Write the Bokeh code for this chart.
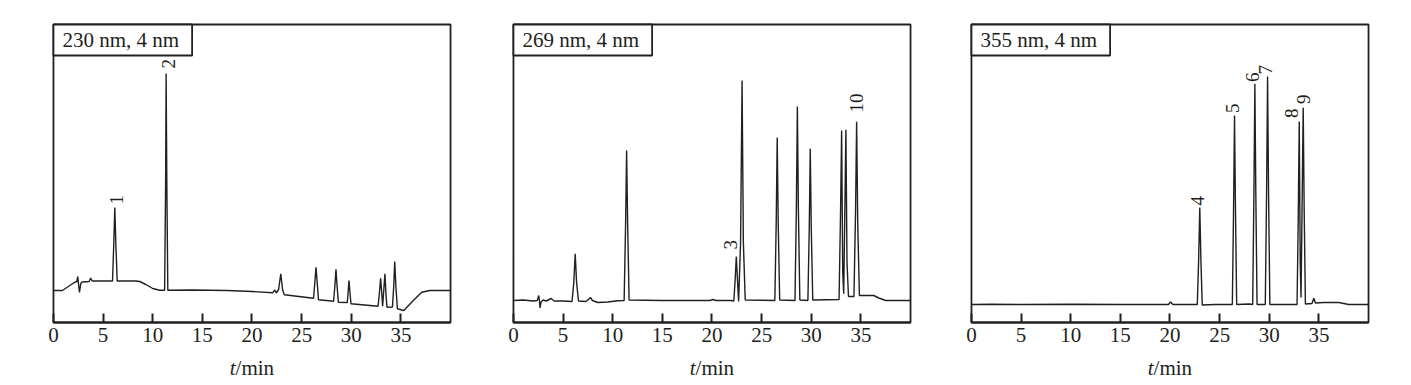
import math
from bokeh.plotting import figure
from bokeh.layouts import row
from bokeh.models import Range1d, FixedTicker, Label
from bokeh.core.properties import value
from bokeh.embed import file_html
from bokeh.resources import INLINE

INK = "#231f20"
FONT = "Liberation Serif"

titles = ["230 nm, 4 nm", "269 nm, 4 nm", "355 nm, 4 nm"]
x_ticks = [0, 5, 10, 15, 20, 25, 30, 35]
x_label_italic = "t"
x_label_rest = "/min"

# 230 nm trace (time / min, signal in arbitrary units)
t_230 = [0.0, 0.9, 1.5, 2.1, 2.35, 2.45, 2.55, 2.62, 2.75, 2.9, 3.6, 3.75, 3.9, 5.0,
         5.95, 6.08, 6.18, 6.28, 6.42, 8.3, 8.7, 9.3, 10.0, 10.7, 11.2, 11.3, 11.35,
         11.42, 11.52, 14.0, 17.5, 20.0, 22.1, 22.3, 22.45, 22.68, 22.9, 23.08, 23.25,
         26.2, 26.33, 26.45, 26.57, 26.7, 28.22, 28.36, 28.46, 28.56, 28.7, 29.6, 29.69,
         29.77, 29.86, 29.97, 32.7, 32.84, 32.96, 33.1, 33.16, 33.26, 33.39, 33.5, 33.6,
         34.15, 34.27, 34.38, 34.5, 34.65, 35.3, 36.25, 37.1, 37.9, 40.0]
s_230 = [32, 32, 36, 40, 41, 46, 36, 30, 39, 40.5, 41, 44.5, 41.5, 41.5,
         41.5, 80, 115, 80, 41.5, 41.5, 41, 38, 34, 32.3, 32.3, 140, 249,
         140, 32.3, 32.5, 32, 31, 29.8, 32.5, 29.5, 33, 48.7, 33, 27.8,
         24.3, 40, 55.3, 40, 22.7, 21.3, 38, 53.3, 38, 20.3, 20, 31,
         42, 31, 18.7, 16.3, 30, 44.3, 25, 16.3, 30, 48.7, 28, 15.3,
         15.5, 35, 61, 35, 13.7, 12, 22, 30.3, 32, 32]

# 269 nm trace
t_269 = [0.0, 1.0, 2.0, 2.4, 2.55, 2.62, 2.68, 2.78, 3.0, 3.3, 3.8, 4.1, 5.0, 5.9,
         6.08, 6.22, 6.36, 6.55, 7.3, 7.6, 7.75, 7.95, 8.5, 9.5, 10.5, 11.15, 11.3,
         11.4, 11.5, 11.65, 15.0, 19.8, 20.1, 20.4, 21.9, 22.2, 22.34, 22.45, 22.56,
         22.68, 22.88, 23.03, 23.16, 23.35, 26.33, 26.47, 26.57, 26.67, 26.82, 28.36,
         28.5, 28.6, 28.7, 28.85, 29.66, 29.8, 29.9, 30.0, 30.15, 32.8, 32.95, 33.06,
         33.17, 33.27, 33.38, 33.49, 33.6, 33.75, 34.3, 34.46, 34.57, 34.68, 34.85,
         35.5, 36.3, 36.8, 37.5, 40.0]
s_269 = [22, 22.5, 21.5, 22, 27, 22, 14.5, 20.5, 22.5, 21.5, 24, 21.5, 21.5, 21,
         40, 68.7, 40, 21.5, 21, 23.5, 25, 22, 20, 20.5, 21.8, 22, 100,
         172, 100, 22.5, 22, 22, 23, 22, 22, 21.5, 44, 66, 44,
         21, 80, 242, 80, 22.5, 22, 100, 185, 100, 22.5, 22,
         115, 216, 115, 22.5, 22, 95, 173.7, 95, 22.5, 23, 110, 192,
         50, 28.7, 110, 192.7, 60, 26, 26, 110, 200.7, 100, 27,
         27, 27, 24.5, 22, 22]

# 355 nm trace
t_355 = [0.0, 2.0, 5.0, 10.0, 15.0, 19.85, 20.05, 20.3, 22.75, 22.88, 23.0, 23.12,
         23.25, 24.5, 26.28, 26.4, 26.5, 26.6, 26.72, 28.0, 28.33, 28.45, 28.55, 28.65,
         28.77, 29.6, 29.73, 29.83, 29.93, 30.06, 32.8, 32.92, 33.02, 33.12, 33.2, 33.3,
         33.42, 33.52, 33.64, 34.3, 34.49, 34.65, 35.5, 37.0, 38.0, 40.0]
s_355 = [18, 18.3, 18, 18.2, 18, 18, 20.5, 18, 18, 60, 115, 60,
         17.5, 18, 18, 110, 207, 110, 18, 18.5, 18, 125, 238.7, 125,
         18, 18, 130, 246, 130, 18, 18, 105, 201, 60, 25, 110,
         214.7, 110, 18.5, 19, 24.3, 19.5, 20, 20, 18, 18]

# peak number annotations (label, time, signal)
lab_230 = ["1", "2"]
lab_230_t = [6.38, 11.58]
lab_230_s = [118, 254]
lab_269 = ["3", "10"]
lab_269_t = [21.82, 34.58]
lab_269_s = [73, 210]
lab_355 = ["4", "5", "6", "7", "8", "9"]
lab_355_t = [22.76, 26.28, 28.3, 29.6, 32.2, 33.48]
lab_355_s = [117, 209.5, 240.5, 248, 204.5, 218.5]

X_MIN, X_MAX = 0, 40          # plotted time span
Y_MIN, Y_MAX = 0, 298         # plotted signal span (1 unit = 1 px)
PAD_X = (-0.6, 40.4)          # drawing area incl. margin for edge tick labels
PAD_Y = (-60, 302)            # drawing area incl. room for axis text below


def make_panel(title, t, s, lt, lx, ly, left, right):
    p = figure(frame_width=407, frame_height=PAD_Y[1] - PAD_Y[0],
               x_range=Range1d(*PAD_X), y_range=Range1d(*PAD_Y),
               min_border_left=left, min_border_right=right,
               min_border_top=20, min_border_bottom=0,
               y_axis_location=None, toolbar_location=None, output_backend="svg",
               background_fill_color="white", border_fill_color="white")
    p.xgrid.visible = False
    p.ygrid.visible = False
    p.outline_line_color = None

    # plotting box
    p.quad(left=[X_MIN], right=[X_MAX], bottom=[Y_MIN], top=[Y_MAX],
           fill_color=None, line_color=INK, line_width=1.8)

    ax = p.xaxis[0]
    ax.fixed_location = Y_MIN
    ax.bounds = (X_MIN, X_MAX)
    ax.ticker = FixedTicker(ticks=x_ticks)
    ax.major_tick_in = 9
    ax.major_tick_out = 0
    ax.minor_tick_in = 0
    ax.minor_tick_out = 0
    ax.major_tick_line_width = 2
    ax.major_tick_line_color = INK
    ax.axis_line_color = INK
    ax.axis_line_width = 1.8
    ax.major_label_text_font = FONT
    ax.major_label_text_font_size = "21px"
    ax.major_label_text_color = INK
    ax.major_label_standoff = 5

    p.line(t, s, line_color=INK, line_width=1.4)

    p.text(x=lx, y=ly, text=lt, angle=math.pi / 2,
           text_align="left", text_baseline="middle",
           text_font=value(FONT), text_font_size=value("19px"), text_color=INK)

    p.add_layout(Label(x=X_MIN, y=Y_MAX, text=title,
                       text_align="left", text_baseline="top",
                       text_font=FONT, text_font_size="21px", text_color=INK,
                       padding=dict(left=9, right=13, top=3, bottom=4),
                       border_line_color=INK, border_line_width=1.8,
                       background_fill_color="white", background_fill_alpha=1.0))

    # axis title: italic "t" followed by "/min"
    xc = 18.35
    p.text(x=[xc], y=[-45], text=[x_label_italic], text_align="right",
           text_baseline="middle", text_font=value(FONT),
           text_font_size=value("21px"), text_font_style="italic", text_color=INK)
    p.text(x=[xc], y=[-45], text=[x_label_rest], text_align="left",
           text_baseline="middle", text_font=value(FONT),
           text_font_size=value("21px"), text_color=INK)
    return p


borders = [(47, 8), (45, 8), (43, 8)]
p1 = make_panel(titles[0], t_230, s_230, lab_230, lab_230_t, lab_230_s, *borders[0])
p2 = make_panel(titles[1], t_269, s_269, lab_269, lab_269_t, lab_269_s, *borders[1])
p3 = make_panel(titles[2], t_355, s_355, lab_355, lab_355_t, lab_355_s, *borders[2])

layout = row(p1, p2, p3)
open("out.html", "w").write(file_html(layout, INLINE))
